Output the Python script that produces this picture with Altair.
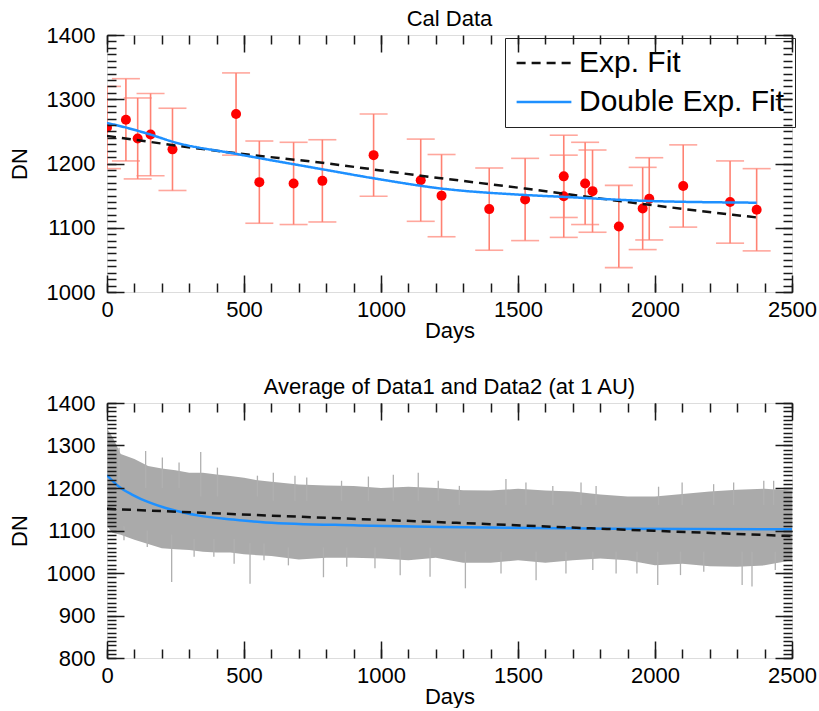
import altair as alt
import pandas as pd

# ---------------- data ----------------
# Top panel: calibration points (day, DN, error)
cal_days = [0, 69, 112, 159, 239, 471, 556, 681, 786, 973, 1145, 1221, 1395, 1526,
            1667, 1667, 1745, 1772, 1868, 1955, 1979, 2103, 2274, 2371]
cal_dn = [1256, 1268, 1239, 1245, 1222, 1277, 1171, 1169, 1173, 1213, 1174, 1150, 1129, 1144,
          1180, 1149, 1169, 1157, 1102, 1130, 1145, 1165, 1140, 1128]
cal_err = [64, 64, 63, 64, 64, 64, 64, 64, 64, 64, 64, 64, 64, 64,
           64, 64, 64, 64, 64, 64, 64, 64, 64, 64]

# Top panel fits
top_exp_days = [0, 471, 786, 1145, 1526, 1955, 2371]
top_exp_dn = [1243, 1216, 1201, 1181, 1161, 1137, 1116]
top_dbl_days = [0, 69, 159, 239, 471, 786, 973, 1221, 1526, 1669, 1955, 2371]
top_dbl_dn = [1263, 1256, 1245, 1234, 1215, 1191, 1177, 1161, 1151, 1148, 1142, 1139]

# Bottom panel: envelope of the daily averaged data
band_days = [0, 20, 50, 100, 150, 200, 250, 300, 350, 400, 450, 500, 550, 600, 700, 800,
             900, 1000, 1100, 1200, 1300, 1400, 1500, 1600, 1700, 1800, 1900, 2000, 2100,
             2200, 2300, 2400, 2500]
band_hi = [1340, 1320, 1280, 1268, 1252, 1246, 1242, 1236, 1236, 1232, 1228, 1224, 1218,
           1215, 1208, 1206, 1205, 1200, 1203, 1200, 1195, 1194, 1198, 1194, 1192, 1185,
           1180, 1180, 1186, 1192, 1196, 1198, 1194]
band_lo = [1110, 1095, 1090, 1078, 1068, 1058, 1056, 1054, 1050, 1048, 1048, 1044, 1042,
           1040, 1032, 1036, 1036, 1034, 1030, 1036, 1024, 1024, 1030, 1024, 1030, 1034,
           1030, 1018, 1022, 1016, 1015, 1018, 1030]
# isolated spikes in the daily data: day, inner end, tip
spike_days = [44, 141, 202, 263, 342, 403, 549, 607, 686, 729, 856, 954, 1045, 1136, 1209,
              1286, 1456, 1529, 1627, 1730, 1785, 2013, 2099, 2214, 2287, 2397, 2433,
              62, 147, 236, 318, 390, 464, 522, 573, 662, 790, 875, 978, 1070, 1179,
              1308, 1438, 1566, 1675, 1773, 1858, 1934, 2010, 2093, 2178, 2318, 2354, 2439]
spike_from = [1200, 1200, 1200, 1200, 1180, 1180, 1180, 1170, 1170, 1170, 1170, 1170, 1170, 1170, 1170,
              1160, 1160, 1160, 1160, 1160, 1160, 1160, 1160, 1160, 1160, 1160, 1160,
              1110, 1100, 1090, 1080, 1080, 1080, 1070, 1070, 1060, 1060, 1060, 1060, 1060, 1060,
              1050, 1050, 1050, 1050, 1050, 1050, 1050, 1050, 1050, 1050, 1050, 1050, 1050]
spike_to = [1295, 1287, 1272, 1260, 1285, 1248, 1229, 1236, 1229, 1225, 1217, 1227, 1231, 1236, 1217,
            1205, 1221, 1213, 1205, 1213, 1205, 1203, 1213, 1209, 1213, 1217, 1217,
            1077, 1061, 979, 1038, 1038, 1022, 975, 1030, 1018, 990, 1015, 1011, 995, 991,
            964, 999, 983, 999, 1007, 999, 999, 972, 995, 1003, 972, 968, 1007]

# Bottom panel fits
bot_exp_days = [0, 600, 1200, 1850, 2500]
bot_exp_dn = [1151, 1135, 1120, 1103, 1087]
bot_dbl_days = [0, 44, 93, 154, 214, 275, 336, 458, 579, 917, 1221, 1845, 2500]
bot_dbl_dn = [1230, 1203, 1184, 1166, 1153, 1143, 1135, 1126, 1119, 1112, 1108, 1104, 1103]

FITS = ["Exp. Fit", "Double Exp. Fit"]

# ---------------- axes setup ----------------
X_DOMAIN = [0, 2500]
X_MAJOR = [0, 500, 1000, 1500, 2000, 2500]
X_MINOR = list(range(0, 2501, 100))
TOP_Y_DOMAIN = [1000, 1400]
TOP_Y_MAJOR = [1000, 1100, 1200, 1300, 1400]
TOP_Y_MINOR = list(range(1000, 1401, 10))
BOT_Y_DOMAIN = [800, 1400]
BOT_Y_MAJOR = [800, 900, 1000, 1100, 1200, 1300, 1400]
BOT_Y_MINOR = list(range(800, 1401, 10))

MAJ, MIN = 17, 9
FONT = "Liberation Sans"
FS = 22


def ax(orient, values, size, title=""):
    show = orient in ("bottom", "left") and size == MAJ
    kw = dict(orient=orient, values=values, tickSize=size, offset=-size,
              domain=False, grid=False, zindex=2, tickColor="#1a1a1a", tickWidth=1.5,
              labels=show)
    if show:
        kw.update(format="d", labelFont=FONT, labelFontSize=FS, labelColor="black",
                  labelPadding=7 if orient == "bottom" else 12,
                  title=title, titleFont=FONT, titleFontSize=FS, titleFontWeight="normal",
                  titleColor="black", titlePadding=0 if orient == "bottom" else 15,
                  labelFlush=False, labelOverlap=False)
    else:
        kw.update(title=None, minExtent=0, maxExtent=0)
    return alt.Axis(**kw)


def xs(field, axis):
    return alt.X(field, type="quantitative", scale=alt.Scale(domain=X_DOMAIN, nice=False, zero=False), axis=axis)


def ys(field, axis, dom):
    return alt.Y(field, type="quantitative", scale=alt.Scale(domain=dom, nice=False, zero=False), axis=axis)


# ---------------- top panel ----------------
cal = pd.DataFrame({"day": cal_days, "dn": cal_dn, "err": cal_err})
cal["lo"] = cal["dn"] - cal["err"]
cal["hi"] = cal["dn"] + cal["err"]

top_fit = pd.concat([
    pd.DataFrame({"day": top_exp_days, "dn": top_exp_dn, "fit": FITS[0]}),
    pd.DataFrame({"day": top_dbl_days, "dn": top_dbl_dn, "fit": FITS[1]}),
])

ERR_COLOR = "#ff8273"
base_cal = alt.Chart(cal)

err_rules = base_cal.mark_rule(color=ERR_COLOR, strokeWidth=1.6, clip=True).encode(
    x=xs("day", ax("bottom", X_MAJOR, MAJ, "Days")),
    y=ys("lo", ax("left", TOP_Y_MAJOR, MAJ, "DN"), TOP_Y_DOMAIN),
    y2="hi",
)
caps_lo = base_cal.mark_tick(color=ERR_COLOR, orient="horizontal", size=28, thickness=1.6, clip=True).encode(
    x=xs("day", ax("bottom", X_MINOR, MIN)),
    y=ys("lo", ax("left", TOP_Y_MINOR, MIN), TOP_Y_DOMAIN),
)
caps_hi = base_cal.mark_tick(color=ERR_COLOR, orient="horizontal", size=28, thickness=1.6, clip=True).encode(
    x=xs("day", ax("top", X_MAJOR, MAJ)),
    y=ys("hi", ax("right", TOP_Y_MAJOR, MAJ), TOP_Y_DOMAIN),
)
points = base_cal.mark_circle(color="#ff0000", size=100, opacity=1, clip=True).encode(
    x=xs("day", ax("top", X_MINOR, MIN)),
    y=ys("dn", ax("right", TOP_Y_MINOR, MIN), TOP_Y_DOMAIN),
)
top_lines = alt.Chart(top_fit).mark_line(strokeWidth=2.5, interpolate="monotone", clip=True).encode(
    x=xs("day", None),
    y=ys("dn", None, TOP_Y_DOMAIN),
    color=alt.Color("fit:N", scale=alt.Scale(domain=FITS, range=["#111111", "#1e90ff"]),
                    legend=alt.Legend(title=None, orient="none", legendX=398, legendY=3,
                                      fillColor="white", strokeColor="#222222", padding=10,
                                      labelFont=FONT, labelFontSize=30, labelColor="black",
                                      symbolType="stroke", symbolSize=3000, symbolStrokeWidth=2.5,
                                      labelOffset=6, rowPadding=9, clipHeight=30, labelLimit=400)),
    strokeDash=alt.StrokeDash("fit:N", scale=alt.Scale(domain=FITS, range=[[9, 6], [1, 0]]), legend=None),
)

top = alt.layer(err_rules, caps_lo, caps_hi, points, top_lines).resolve_axis(
    x="independent", y="independent"
).properties(
    width=685, height=257,
    title=alt.TitleParams("Cal Data", font=FONT, fontSize=FS, fontWeight="normal", color="black",
                          frame="group", anchor="middle", offset=-7),
)

# ---------------- bottom panel ----------------
band = pd.DataFrame({"day": band_days, "hi": band_hi, "lo": band_lo})
spikes = pd.DataFrame({"day": spike_days, "a": spike_from, "b": spike_to})
bexp = pd.DataFrame({"day": bot_exp_days, "dn": bot_exp_dn})
bdbl = pd.DataFrame({"day": bot_dbl_days, "dn": bot_dbl_dn})

band_area = alt.Chart(band).mark_area(color="#aaaaaa", opacity=1, clip=True).encode(
    x=xs("day", ax("bottom", X_MAJOR, MAJ, "Days")),
    y=ys("hi", ax("left", BOT_Y_MAJOR, MAJ, "DN"), BOT_Y_DOMAIN),
    y2="lo",
)
spike_rules = alt.Chart(spikes).mark_rule(color="#b0b0b0", strokeWidth=1.3, clip=True).encode(
    x=xs("day", ax("bottom", X_MINOR, MIN)),
    y=ys("a", ax("left", BOT_Y_MINOR, MIN), BOT_Y_DOMAIN),
    y2="b",
)
dbl_line = alt.Chart(bdbl).mark_line(color="#1e90ff", strokeWidth=2.5, interpolate="monotone", clip=True).encode(
    x=xs("day", ax("top", X_MAJOR, MAJ)),
    y=ys("dn", ax("right", BOT_Y_MAJOR, MAJ), BOT_Y_DOMAIN),
)
exp_line = alt.Chart(bexp).mark_line(color="#111111", strokeWidth=2.5, strokeDash=[9, 6],
                                     interpolate="monotone", clip=True).encode(
    x=xs("day", ax("top", X_MINOR, MIN)),
    y=ys("dn", ax("right", BOT_Y_MINOR, MIN), BOT_Y_DOMAIN),
)

bottom = alt.layer(band_area, spike_rules, dbl_line, exp_line).resolve_axis(
    x="independent", y="independent"
).properties(
    width=685, height=255,
    title=alt.TitleParams("Average of Data1 and Data2 (at 1 AU)", font=FONT, fontSize=FS,
                          fontWeight="normal", color="black", frame="group", anchor="middle", offset=-7),
)

chart = alt.vconcat(top, bottom, spacing=33).resolve_legend(
    color="independent", strokeDash="independent"
).configure_view(stroke="#222222", strokeWidth=1.6).configure(
    padding={"left": 7, "top": 7, "right": 2, "bottom": 0}, background="white"
)

chart.save("out.html", embed_options={"renderer": "svg", "actions": False})
